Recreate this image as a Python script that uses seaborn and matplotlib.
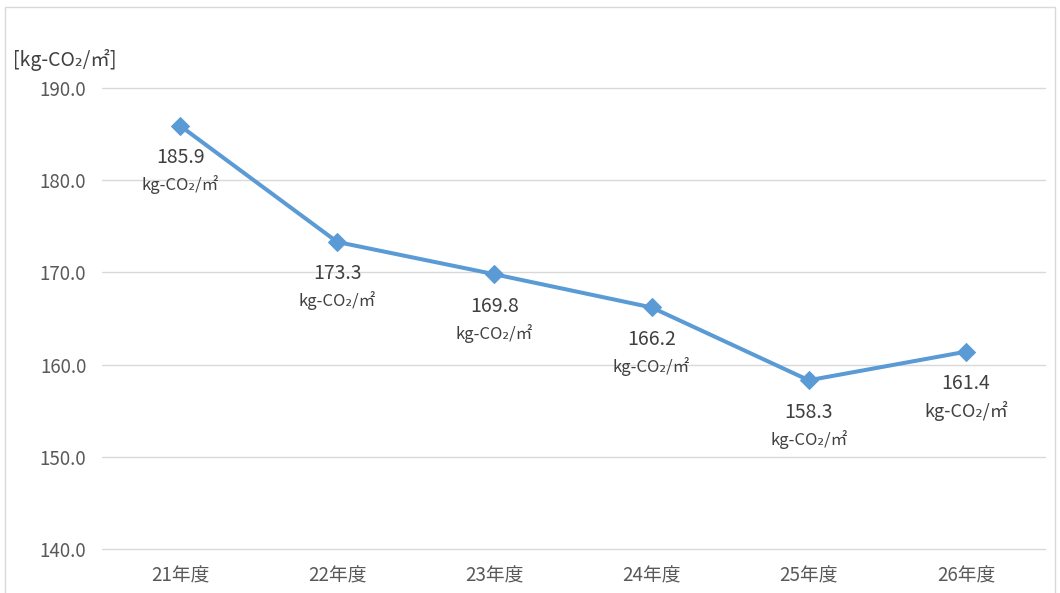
import matplotlib
matplotlib.use("Agg")
import matplotlib.pyplot as plt
import seaborn as sns
import pandas as pd
from matplotlib.patches import Rectangle

# Emission intensity per floor area by fiscal year
years = ["21年度", "22年度", "23年度", "24年度", "25年度", "26年度"]
values = [185.9, 173.3, 169.8, 166.2, 158.3, 161.4]
y_ticks = [140.0, 150.0, 160.0, 170.0, 180.0, 190.0]
unit = "kg-CO₂/㎡"

sns.set_theme(style="white")
plt.rcParams["font.family"] = ["Noto Sans CJK JP", "DejaVu Sans"]

df = pd.DataFrame({"year": years, "value": values})

fig = plt.figure(figsize=(10.6, 5.93), dpi=100)
ax = fig.add_axes([0.0958, 0.0742, 0.8896, 0.7774])

line_color = "#5B9BD5"
sns.lineplot(data=df, x="year", y="value", ax=ax, color=line_color,
             linewidth=2.9, marker="D", markersize=9, markeredgecolor=line_color,
             sort=False)

ax.set_xlim(-0.5, len(years) - 0.5)
ax.set_ylim(y_ticks[0], y_ticks[-1])
ax.set_yticks(y_ticks)
ax.set_yticklabels([f"{v:.1f}" for v in y_ticks])
ax.grid(axis="y", color="#D9D9D9", linewidth=1.0)
ax.grid(axis="x", visible=False)
for gl in ax.get_ygridlines():
    gl.set_clip_on(False)
for s in ax.spines.values():
    s.set_visible(False)
ax.tick_params(axis="both", length=0, labelsize=13.5, colors="#595959")
ax.tick_params(axis="y", pad=11)
ax.tick_params(axis="x", pad=12)
ax.set_xlabel("")
ax.set_ylabel("")

# Value labels beneath each point
for i, v in enumerate(values):
    big = i == len(values) - 1
    ax.annotate(f"{v:.1f}", (i, v), xytext=(0, -23), textcoords="offset points",
                ha="center", va="center", fontsize=14, color="#404040")
    ax.annotate(unit, (i, v), xytext=(0, -42.5), textcoords="offset points",
                ha="center", va="center", fontsize=13 if big else 12, color="#404040")

fig.text(0.012, 0.898, f"[{unit}]", fontsize=14, color="#404040", ha="left", va="center")

# Light frame around the chart area
fig.patches.append(Rectangle((0.005, -0.01), 0.99, 0.998, transform=fig.transFigure,
                             fill=False, edgecolor="#D9D9D9", linewidth=1.0))

fig.savefig("out.png", dpi=100)
